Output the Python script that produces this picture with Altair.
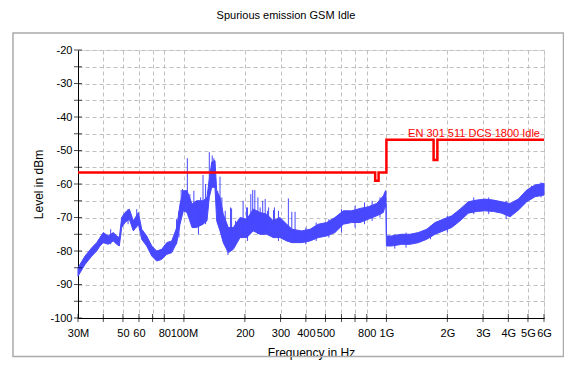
import altair as alt
import pandas as pd

# ---- data (frequency in MHz, level in dBm) ----
band_f = [30, 32.5, 35.1, 37.1, 38.5, 40.0, 42.3, 44.8, 46.6, 48.0, 49.3, 51.2, 53.8, 56.3,
          59.6, 61.9, 65.5, 69.4, 73.4, 77.7, 82.3, 87.1, 92.2, 95.7, 99.3, 103.6, 109.7,
          115.4, 124.3, 130, 133.5, 137.2, 142.4, 145.2, 150.8, 156.5, 165.7, 175.4, 189.3,
          204.3, 220, 237.6, 256.4, 276.4, 298, 322, 342, 382, 420, 461, 507, 557, 613, 674,
          741, 814, 896, 966, 990, 995, 1000, 1062, 1190, 1308, 1438, 1582, 1738, 1910, 2101,
          2310, 2538, 2793, 3069, 3373, 3711, 4078, 4481, 4931, 5419, 6000]
band_lo = [-87.5, -84, -81.5, -80, -78.5, -77.5, -78, -77, -78, -78.5, -73, -71.5, -70.5, -74,
           -72, -76.5, -78.5, -81.5, -83, -82.5, -81, -80.5, -77.5, -72, -68, -68.5, -73,
           -73, -72, -71, -64, -61, -61, -71, -74, -77.5, -80.5, -79.5, -76,
           -76, -74, -75, -75, -76, -76, -77, -77.5, -77.5, -77, -76, -75.5, -74.5, -72, -71.5,
           -71.5, -70.5, -69.5, -68.5, -66, -66, -78.5, -78.5, -78, -78, -77.5, -76.5, -75, -74, -73,
           -71, -68.7, -68.2, -68, -68.2, -68.7, -69.8, -67.8, -65.3, -63.8, -63.3]
band_hi = [-85, -81.5, -79, -77.5, -76, -74.5, -75.5, -74.5, -75.5, -76, -70, -68.5, -67.5, -71,
           -68.5, -73.5, -75.5, -78.5, -80, -79.5, -77.5, -77, -73, -66, -62, -62, -66,
           -65, -65, -64, -58.5, -53.5, -53, -62, -64, -69, -73, -73, -70,
           -70.5, -67.5, -68.5, -69, -71, -70, -72, -73.5, -74, -73.5, -72, -71.5, -70, -68, -68,
           -67.3, -66.8, -65.8, -63.5, -62, -62.5, -75.5, -75.5, -75, -75, -74.5, -73.5, -71.5, -70.5, -69.5,
           -67.5, -65.3, -64.8, -64.5, -64.8, -65.3, -65.8, -64.5, -61.8, -60.3, -59.8]

spike_f = [43.5, 53, 58.5, 92.0, 94.5, 97.0, 98.5, 104, 107, 112, 118, 121, 124.3, 128, 133.5,
           138, 140.5, 147, 150.8, 154, 160, 165, 170, 172, 180, 196, 204, 206, 214, 218.7, 224,
           232, 238, 245, 252, 259, 262, 277, 280, 293, 328, 341, 354, 400, 450, 520, 600, 700,
           780, 850, 930, 990, 1100, 1250, 1650, 2000, 2700, 3200, 3900, 5200, 5800]
spike_lo = [-78, -72, -73, -78, -76, -70, -69, -66, -70, -72, -75, -72, -70, -72, -62,
            -60, -59, -72, -72, -75, -78, -81.2, -80, -79, -78, -76, -76, -77, -74, -72, -72,
            -75, -75, -75, -74, -75, -75, -76, -76, -77, -76, -77, -77, -78, -77, -76, -74.5, -73,
            -72, -71, -70, -67, -79.3, -79, -76.5, -74.5, -69, -69, -70.5, -64.5, -64]
spike_hi = [-73.5, -67.5, -67.5, -70.5, -68, -61.8, -61.5, -52.3, -63, -62, -65, -64, -57.3, -60, -50.5,
            -51.5, -52.3, -62, -57.8, -64, -68, -73, -67, -67.3, -71, -65, -67, -67, -63, -61.8, -61.8,
            -64, -67, -65, -64.5, -68, -67, -67.8, -67, -68, -64.3, -68.3, -68.3, -73, -71.5, -70.5, -67.5, -66.5,
            -65.5, -65, -64, -62, -75, -74.5, -72.5, -69.5, -64, -64, -65, -60.5, -59.5]

limit_f = [30, 880, 880, 915, 915, 1000, 1000, 1710, 1710, 1785, 1785, 6000]
limit_db = [-56.6, -56.6, -59, -59, -56.6, -56.6, -46.8, -46.8, -52.8, -52.8, -46.8, -46.8]
limit_name = "EN 301 511 DCS 1800 Idle"
chart_title = "Spurious emission GSM Idle"

x_tick_vals = [30, 40, 50, 60, 70, 80, 100, 200, 300, 400, 500, 600, 700, 800,
               1000, 2000, 3000, 4000, 5000, 6000]
x_tick_text = ["30M", "", "50", "60", "", "80", "100M", "200", "300", "400", "500", "", "",
               "800", "1G", "2G", "3G", "4G", "5G", "6G"]
y_tick_vals = list(range(-100, -15, 5))

# ---- tables ----
band = pd.DataFrame({"f": band_f, "lo": band_lo, "hi": band_hi})
spikes = pd.DataFrame({"f": spike_f, "lo": spike_lo, "hi": spike_hi})
limit = pd.DataFrame({"f": limit_f, "db": limit_db, "idx": list(range(len(limit_f)))})
label = pd.DataFrame({"f": [limit_f[-1]], "db": [limit_db[-1]], "t": [limit_name]})
yt = pd.DataFrame({"f": [x_tick_vals[0]] * len(y_tick_vals), "db": y_tick_vals})
xt = pd.DataFrame({"f": x_tick_vals, "db": [y_tick_vals[0]] * len(x_tick_vals)})

xlab = " : ".join(f"datum.value == {v} ? '{t}'" for v, t in zip(x_tick_vals, x_tick_text)) + " : ''"

xscale = alt.Scale(type="log", domain=[30, 6000], nice=False)
yscale = alt.Scale(domain=[-100, -20], nice=False, zero=False)
BLUE = "#4848FF"
RED = "#FF0000"

xaxis = alt.Axis(values=x_tick_vals, labelExpr=xlab, grid=True, gridDash=[4, 3],
                 gridColor="#C0C0C0", ticks=False, domainColor="black", labelPadding=9,
                 labelFontSize=11, labelColor="black", labelOverlap=False, labelFlush=False,
                 labelBound=False, title="Frequency in Hz", titleFontSize=12,
                 titleFontWeight="normal", titleColor="black", titleX=233, titleY=34,
                 titleBaseline="middle", titleAlign="center")
yaxis = alt.Axis(values=y_tick_vals, labelExpr="datum.value % 10 == 0 ? toString(datum.value) : ''",
                 grid=True, gridDash=[4, 3], gridColor="#C0C0C0", ticks=False,
                 domainColor="black", labelPadding=6, labelFontSize=11, labelColor="black",
                 labelOverlap=False, labelFlush=False, labelBound=False,
                 title="Level in dBm", titleFontSize=12, titleFontWeight="normal",
                 titleColor="black", titleX=-40, titleY=134, titleAngle=-90,
                 titleBaseline="middle", titleAlign="center")


def X(field="f"):
    return alt.X(f"{field}:Q", scale=xscale, axis=xaxis)


def Y(field):
    return alt.Y(f"{field}:Q", scale=yscale, axis=yaxis)


area = alt.Chart(band).mark_area(color=BLUE, stroke=BLUE, strokeWidth=1, opacity=1).encode(
    x=X(), y=Y("lo"), y2="hi:Q",
)
spk = alt.Chart(spikes).mark_rule(color=BLUE, strokeWidth=1).encode(
    x=X(), y=Y("lo"), y2="hi:Q",
)
lim = alt.Chart(limit).mark_line(color=RED, strokeWidth=2.5, interpolate="linear").encode(
    x=X(), y=Y("db"), order="idx:Q",
)
txt = alt.Chart(label).mark_text(color=RED, fontSize=11, align="right", baseline="alphabetic",
                                 dx=-4, dy=-3).encode(
    x=X(), y=Y("db"), text="t:N",
)
ytk = alt.Chart(yt).mark_tick(orient="horizontal", size=8, thickness=1, color="black").encode(
    x=X(), y=Y("db"),
)
xtk = alt.Chart(xt).mark_tick(orient="vertical", size=8, thickness=1, color="black").encode(
    x=X(), y=Y("db"),
)
one = pd.DataFrame({"t": [chart_title]})
frame = alt.Chart(one).mark_rect(fill=None, stroke="#ABABAB", strokeWidth=1.5).encode(
    x=alt.value(-65), x2=alt.value(485.5), y=alt.value(-17), y2=alt.value(306.5),
)
ttl = alt.Chart(one).mark_text(fontSize=11, color="black", align="center",
                               baseline="top").encode(
    x=alt.value(208), y=alt.value(-40.5), text="t:N",
)

chart = alt.layer(area, spk, lim, txt, ytk, xtk, frame, ttl).properties(
    width=466, height=268,
    padding={"left": 70, "top": 42, "right": 20, "bottom": 44},
    autosize=alt.AutoSizeParams(type="none"),
).configure_view(stroke=None).configure(font="Arial, Liberation Sans")

chart.save("out.html", embed_options={"renderer": "svg", "actions": False})
